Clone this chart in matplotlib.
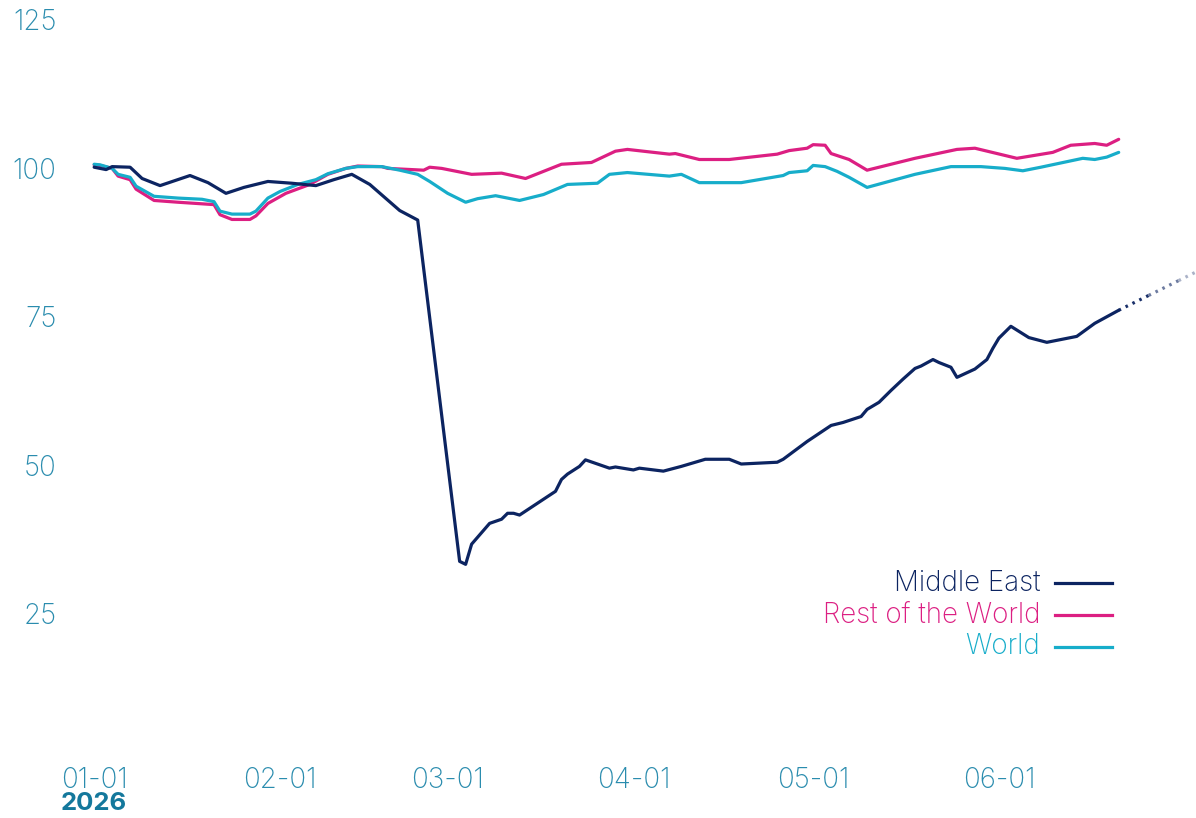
import numpy as np
import matplotlib
matplotlib.use("Agg")
import matplotlib.pyplot as plt
import matplotlib.dates as mdates
from datetime import datetime, timedelta

plt.rcParams['font.family'] = ['Inter', 'DejaVu Sans']

BASE = datetime(2026, 1, 1)

# Middle East (days since 2026-01-01, index value)
me_days = [0, 2, 3, 6, 8, 11, 16, 19, 22, 25, 29, 33, 37, 40, 43, 46, 51, 54,
           61, 62, 63, 66, 68, 69, 70, 71, 74, 77, 78, 79, 81, 82, 86, 87, 90, 91,
           95, 98, 102, 106, 108, 114, 115, 119, 123, 125, 128, 129, 131, 133, 135,
           137, 138, 140, 141, 143, 144, 147, 149, 150, 151, 153, 156, 159, 164,
           167, 171]
me_vals = [100.2, 99.8, 100.3, 100.2, 98.3, 97.1, 98.8, 97.6, 95.8, 96.8, 97.8, 97.5,
           97.1, 98.1, 99.0, 97.3, 92.9, 91.3,
           33.8, 33.3, 36.7, 40.2, 40.9, 41.9, 41.9, 41.6, 43.6, 45.6, 47.6, 48.5, 49.8,
           50.9, 49.5, 49.7, 49.2, 49.5,
           49.0, 49.8, 51.0, 51.0, 50.2, 50.5, 51.0, 54.0, 56.7, 57.2, 58.2, 59.4, 60.6,
           62.6, 64.5, 66.3, 66.7, 67.8, 67.3, 66.5, 64.8, 66.2, 67.8, 69.7, 71.4, 73.4,
           71.5, 70.7, 71.7, 73.9, 76.1]

# Middle East projection (dotted)
me_proj_days = [171, 176, 181, 186]
me_proj_vals = [76.1, 78.6, 81.1, 83.6]

# Rest of the World
row_days = [0, 1, 3, 4, 6, 7, 10, 14, 20, 21, 23, 26, 27, 29, 32, 36, 39, 42, 44,
            48, 49, 55, 56, 58, 63, 68, 72, 78, 83, 87, 89, 96, 97, 101, 106, 114,
            116, 119, 120, 122, 123, 126, 129, 137, 144, 147, 154, 160, 163, 167,
            169, 171]
row_vals = [100.6, 100.5, 100.0, 98.7, 98.1, 96.5, 94.6, 94.3, 93.9, 92.2, 91.4, 91.4,
            92.0, 94.1, 95.8, 97.3, 99.0, 100.0, 100.4,
            100.3, 100.0, 99.7, 100.2, 100.0, 99.0, 99.2, 98.3, 100.7, 101.0, 102.9,
            103.2, 102.4, 102.5, 101.5, 101.5, 102.4,
            103.0, 103.4, 104.0, 103.9, 102.5, 101.5, 99.7, 101.7, 103.2, 103.4, 101.7,
            102.7, 103.9, 104.2, 103.9, 104.9]

# World
w_days = [0, 1, 3, 4, 6, 7, 10, 14, 18, 20, 21, 23, 26, 27, 29, 31, 34, 37, 39, 42,
          44, 48, 51, 54, 56, 59, 62, 64, 67, 71, 75, 79, 84, 86, 89, 96, 98, 101,
          108, 115, 116, 119, 120, 122, 124, 126, 129, 137, 143, 148, 152, 155, 158,
          165, 167, 169, 171]
w_vals = [100.7, 100.6, 100.0, 99.0, 98.5, 97.0, 95.3, 95.0, 94.8, 94.4, 92.8, 92.3,
          92.3, 92.8, 95.0, 96.1, 97.3, 98.1, 99.1, 100.0,
          100.3, 100.3, 99.7, 99.0, 97.8, 95.8, 94.3, 94.9, 95.4, 94.6, 95.6, 97.3,
          97.5, 99.0, 99.3, 98.7, 99.0, 97.6,
          97.6, 98.8, 99.3, 99.6, 100.5, 100.3, 99.5, 98.5, 96.8, 99.0, 100.3, 100.3,
          100.0, 99.6, 100.2, 101.7, 101.5, 101.9, 102.7]

series_names = ["Middle East", "Rest of the World", "World"]
y_ticks = [25, 50, 75, 100, 125]
x_tick_dates = ["2026-01-01", "2026-02-01", "2026-03-01", "2026-04-01",
                "2026-05-01", "2026-06-01"]

C_ME = "#0c2461"
C_ROW = "#dc1f82"
C_W = "#17adca"
C_TICK = "#2a8cae"
C_YEAR = "#14789c"
FS = 20


def to_dates(days):
    return [BASE + timedelta(days=d) for d in days]


fig = plt.figure(figsize=(11.96, 8.18), dpi=100)
ax = fig.add_axes([60 / 1196, 1 - 762 / 818, 1136 / 1196, 742 / 818])

lw = 2.3
ax.plot(to_dates(w_days), w_vals, color=C_W, lw=lw, solid_capstyle='round',
        solid_joinstyle='round', zorder=3)
ax.plot(to_dates(row_days), row_vals, color=C_ROW, lw=lw, solid_capstyle='round',
        solid_joinstyle='round', zorder=2)
ax.plot(to_dates(me_days), me_vals, color=C_ME, lw=lw, solid_capstyle='round',
        solid_joinstyle='round', zorder=4)

# dotted projection fading out
alphas = [0.95, 0.6, 0.35]
pd_dates = to_dates(me_proj_days)
for i in range(len(me_proj_days) - 1):
    ax.plot(pd_dates[i:i + 2], me_proj_vals[i:i + 2], color=C_ME, lw=lw,
            linestyle=(0, (0.8, 1.6)), alpha=alphas[i], zorder=4)

ax.set_ylim(0, 125)
ax.set_xlim(BASE + timedelta(days=-5.7), BASE + timedelta(days=183.9))
ax.set_yticks(y_ticks)
ax.set_yticklabels([str(v) for v in y_ticks])
ax.set_xticks([datetime.strptime(s, "%Y-%m-%d") for s in x_tick_dates])
ax.xaxis.set_major_formatter(mdates.DateFormatter("%m-%d"))

for s in ax.spines.values():
    s.set_visible(False)
ax.tick_params(axis='both', length=0, labelsize=FS, colors=C_TICK)
ax.tick_params(axis='y', pad=2.5)
ax.tick_params(axis='x', pad=3.5)
for lab in ax.get_xticklabels() + ax.get_yticklabels():
    lab.set_fontweight('light')

# year label below first tick
ax.annotate("2026", xy=(BASE, 0), xycoords=('data', 'axes fraction'),
            xytext=(0, -30), textcoords='offset points', ha='center', va='center',
            fontsize=18.5, fontweight='bold', color=C_YEAR)

# legend
leg_colors = [C_ME, C_ROW, C_W]
leg_y = [0.2412, 0.1981, 0.1550]
for name, c, yy in zip(series_names, leg_colors, leg_y):
    ax.text(0.8627, yy, name, transform=ax.transAxes, ha='right', va='center',
            fontsize=FS, color=c, fontweight='light')
    ax.plot([0.8759, 0.9261], [yy, yy], transform=ax.transAxes, color=c, lw=lw,
            clip_on=False)

fig.savefig("out.png", dpi=100)
